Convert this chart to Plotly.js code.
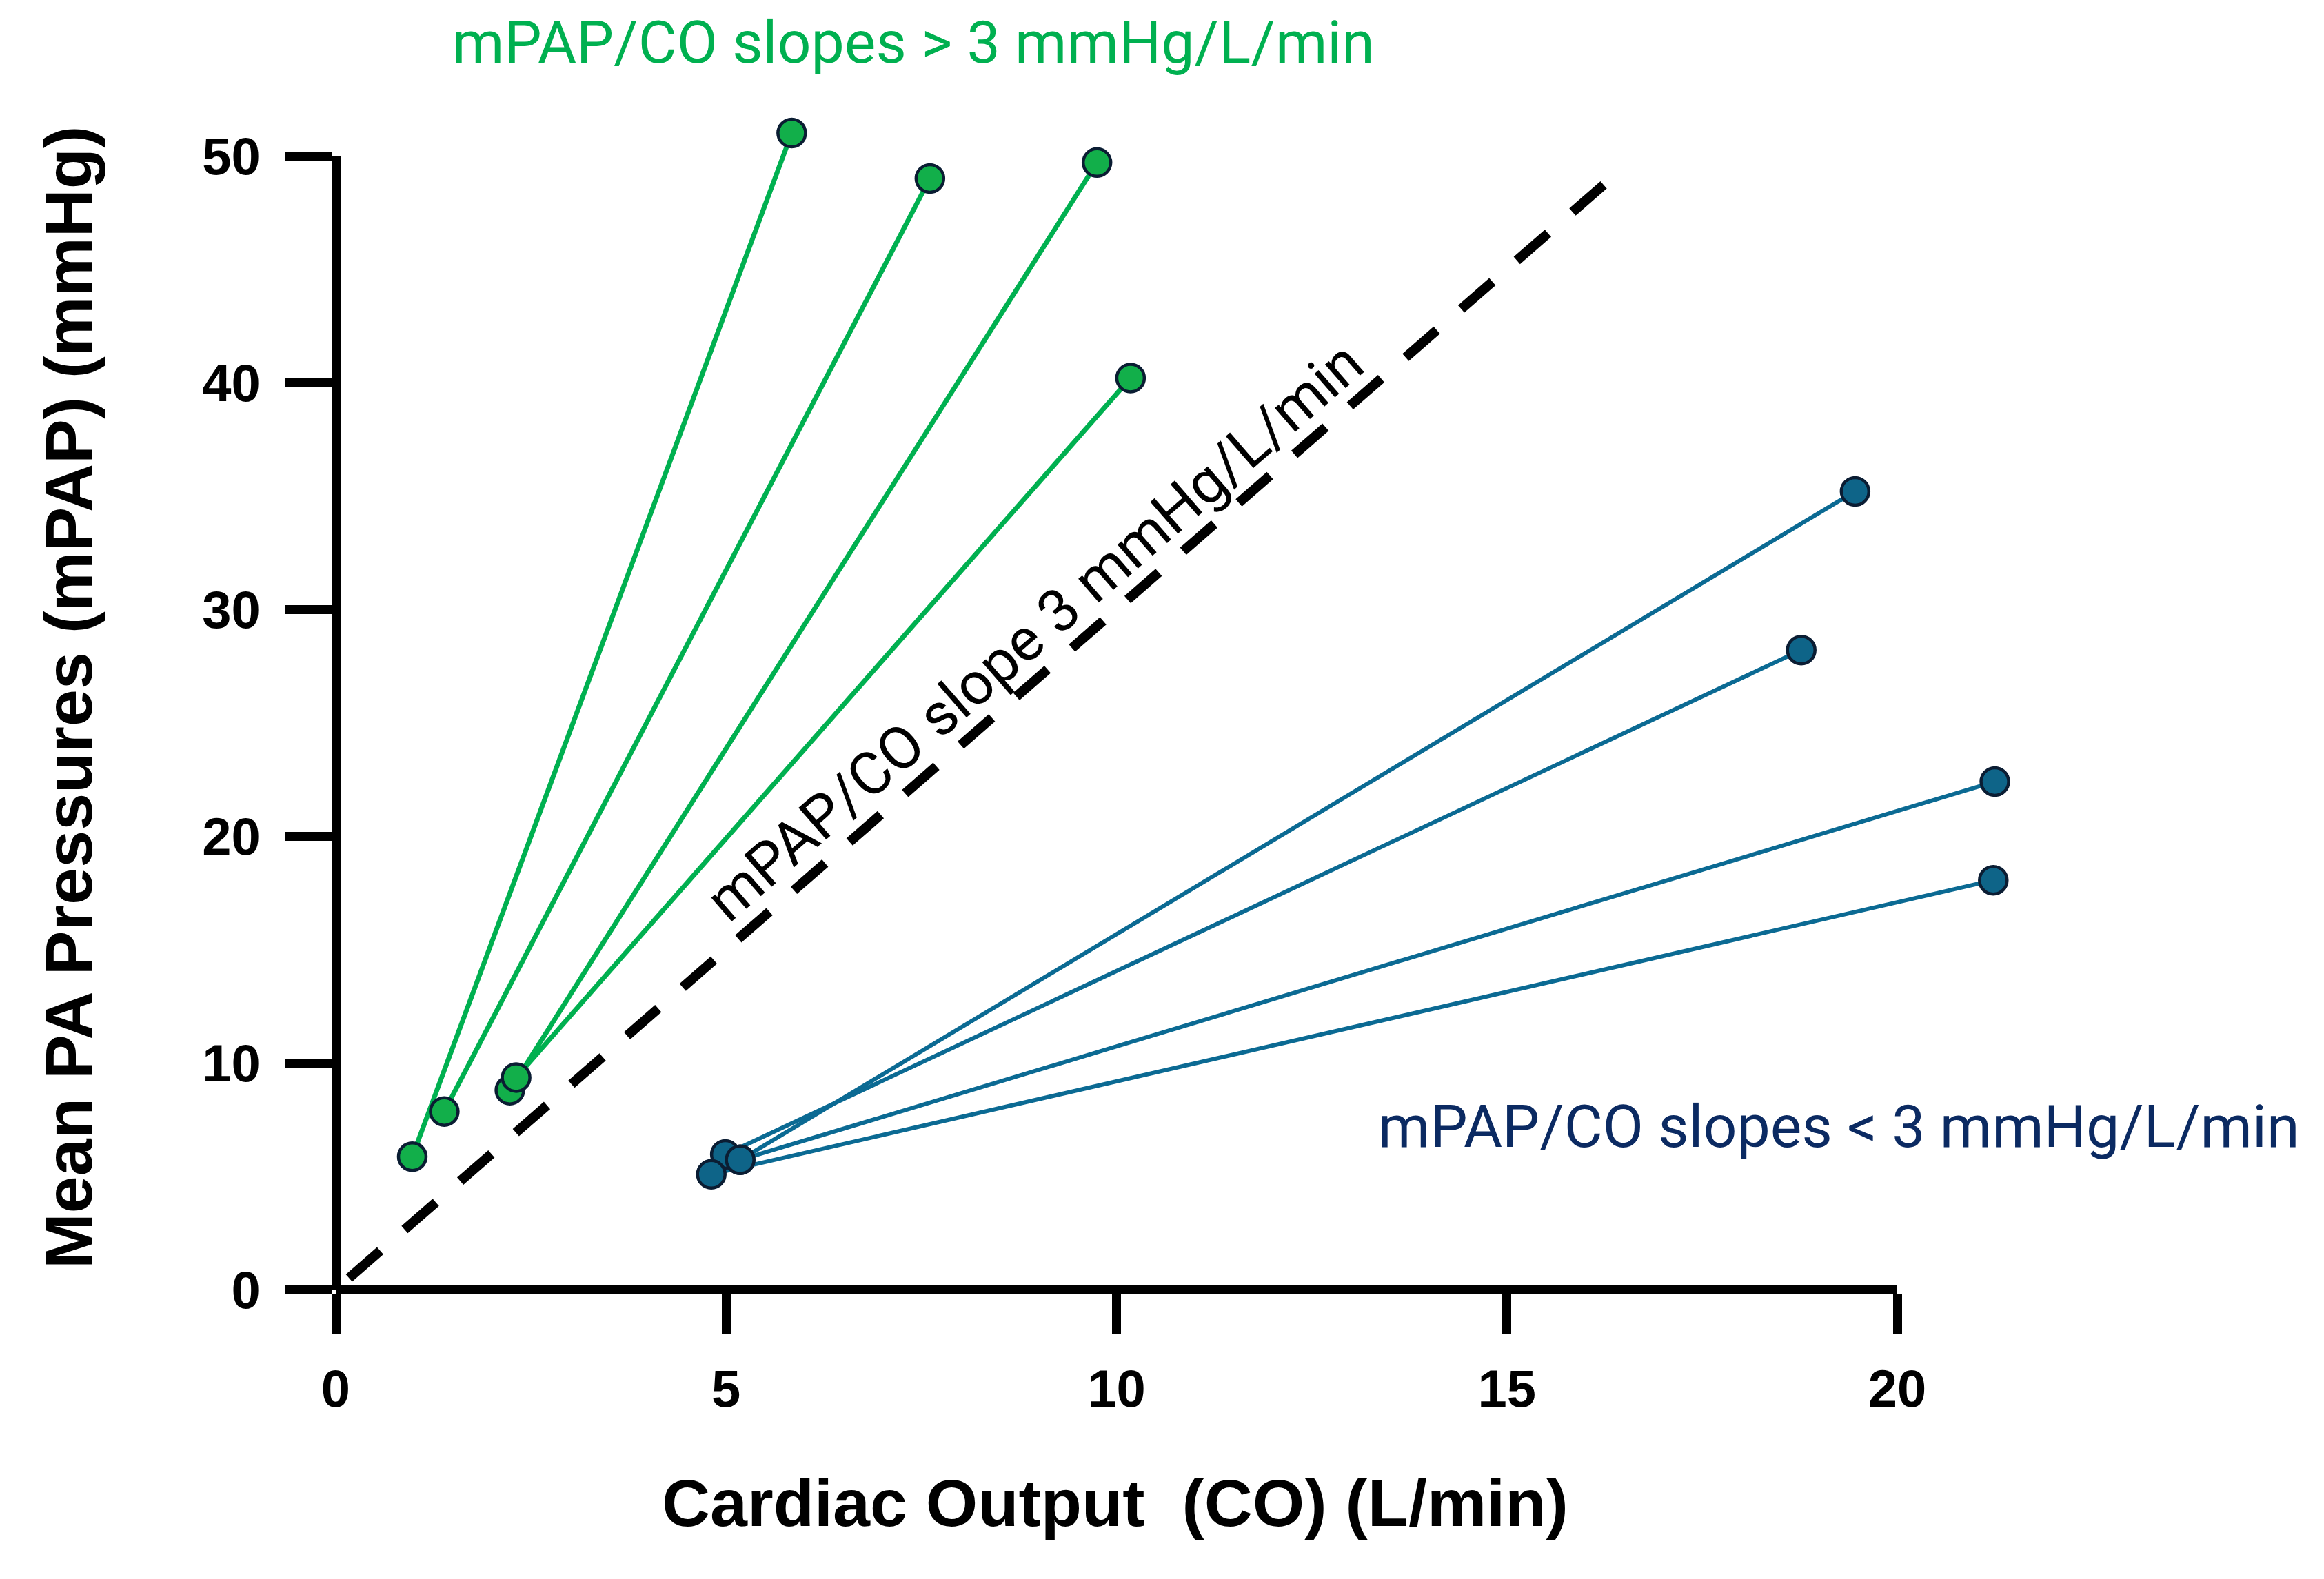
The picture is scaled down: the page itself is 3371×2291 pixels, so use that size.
<!DOCTYPE html>
<html>
<head>
<meta charset="utf-8">
<script src="https://cdn.plot.ly/plotly-3.0.1.min.js"></script>
<style>
  html, body { margin: 0; padding: 0; background: #ffffff; }
  #chart { width: 3371px; height: 2291px; }
</style>
</head>
<body>
<div id="chart"></div>
<script>
// Cardiac output (L/min) and mean PA pressure (mmHg), rest -> exercise, per subject.
// Subjects whose mPAP/CO slope exceeds 3 mmHg/L/min
const steepRestCO   = [0.98, 1.39, 2.23, 2.31];
const steepRestPAP  = [5.86, 7.85, 8.79, 9.35];
const steepPeakCO   = [5.84, 7.61, 9.75, 10.18];
const steepPeakPAP  = [51.0, 49.0, 49.7, 40.2];

// Subjects whose mPAP/CO slope stays below 3 mmHg/L/min
const flatRestCO    = [5.18, 4.99, 5.18, 4.81];
const flatRestPAP   = [5.72, 5.96, 5.72, 5.08];
const flatPeakCO    = [19.46, 18.77, 21.25, 21.23];
const flatPeakPAP   = [35.2, 28.2, 22.4, 18.05];

// Reference line: mPAP = 3 x CO
const refSlope = 3;
const refCO = [0.17, 16.28];

// Axis ticks
const xTicks = [0, 5, 10, 15, 20];
const yTicks = [0, 10, 20, 30, 40, 50];

// ---- page geometry (pixels) ----
const W = 3371, H = 2291;
const X0PX = 487, X20PX = 2752;   // CO = 0 and CO = 20
const Y0PX = 1871, Y50PX = 226;   // mPAP = 0 and mPAP = 50
const pxPerX = (X20PX - X0PX) / 20;
const pxPerY = (Y0PX - Y50PX) / 50;

const GREEN = '#00B050';
const GREEN_FILL = '#12AF4A';
const TEAL = '#0B6A93';
const TEAL_FILL = '#0E6488';
const OUTLINE = '#0B1D33';

const boldFamily = 'Liberation Sans, Arial, sans-serif';
const axisFont = { family: boldFamily, size: 76, color: '#000000', weight: 'bold' };
const titleFont = { family: boldFamily, size: 97, color: '#000000', weight: 'bold' };
const noteFont = (c) => ({ family: 'Roboto, "Open Sans", sans-serif', size: 86, color: c });

const traces = [];

// dashed reference line
traces.push({
  x: refCO,
  y: refCO.map(v => refSlope * v),
  mode: 'lines',
  line: { color: '#000000', width: 14, dash: '60px,47px' },
  hoverinfo: 'skip', showlegend: false
});

function addGroup(restCO, restPAP, peakCO, peakPAP, lineColor, lineWidth, fill) {
  for (let i = 0; i < restCO.length; i++) {
    traces.push({
      x: [restCO[i], peakCO[i]],
      y: [restPAP[i], peakPAP[i]],
      mode: 'lines',
      line: { color: lineColor, width: lineWidth },
      showlegend: false, cliponaxis: false
    });
  }
  traces.push({
    x: restCO.concat(peakCO),
    y: restPAP.concat(peakPAP),
    mode: 'markers',
    marker: { size: 40, color: fill, line: { color: OUTLINE, width: 4.5 } },
    showlegend: false, cliponaxis: false
  });
}
addGroup(steepRestCO, steepRestPAP, steepPeakCO, steepPeakPAP, GREEN, 7, GREEN_FILL);
addGroup(flatRestCO, flatRestPAP, flatPeakCO, flatPeakPAP, TEAL, 6, TEAL_FILL);

// empty trace that carries the visible axes
traces.push({ x: [], y: [], xaxis: 'x2', yaxis: 'y2', mode: 'markers', showlegend: false, hoverinfo: 'skip' });

const layout = {
  width: W, height: H,
  margin: { l: 0, r: 0, t: 0, b: 0, pad: 0 },
  paper_bgcolor: '#ffffff',
  plot_bgcolor: 'rgba(0,0,0,0)',
  showlegend: false,
  // data axes covering the whole page, same scale as the drawn axes
  xaxis: { domain: [0, 1], range: [-X0PX / pxPerX, (W - X0PX) / pxPerX], visible: false, fixedrange: true },
  yaxis: { domain: [0, 1], range: [-(H - Y0PX) / pxPerY, Y0PX / pxPerY], visible: false, fixedrange: true },
  xaxis2: {
    domain: [X0PX / W, X20PX / W], range: [0, 20],
    anchor: 'free', position: 1 - Y0PX / H,
    showline: true, linewidth: 13, linecolor: '#000000',
    ticks: 'outside', ticklen: 58, tickwidth: 13, tickcolor: '#000000',
    tickmode: 'array', tickvals: xTicks, ticktext: xTicks.map(String),
    ticklabelstandoff: 14,
    tickfont: axisFont, showgrid: false, zeroline: false
  },
  yaxis2: {
    domain: [1 - Y0PX / H, 1 - Y50PX / H], range: [0, 50],
    anchor: 'free', position: X0PX / W,
    showline: true, linewidth: 13, linecolor: '#000000',
    ticks: 'outside', ticklen: 68, tickwidth: 13, tickcolor: '#000000',
    tickmode: 'array', tickvals: yTicks, ticktext: yTicks.map(String),
    ticklabelstandoff: 20,
    tickfont: axisFont, showgrid: false, zeroline: false
  },
  annotations: [
    {
      text: 'Cardiac Output \u00a0(CO) (L/min)', xref: 'paper', yref: 'paper',
      x: 1617 / W, y: 1 - 2180 / H, xanchor: 'center', yanchor: 'middle',
      showarrow: false, font: titleFont
    },
    {
      text: 'Mean PA Pressures (mPAP) (mmHg)', xref: 'paper', yref: 'paper',
      x: 99 / W, y: 1 - 1012 / H, xanchor: 'center', yanchor: 'middle',
      textangle: -90, showarrow: false, font: titleFont
    },
    {
      text: 'mPAP/CO slopes > 3 mmHg/L/min', xref: 'paper', yref: 'paper',
      x: 654 / W, y: 1 - 62 / H, xanchor: 'left', yanchor: 'middle',
      showarrow: false, font: noteFont(GREEN)
    },
    {
      text: 'mPAP/CO slopes < 3 mmHg/L/min', xref: 'paper', yref: 'paper',
      x: 1997 / W, y: 1 - 1634 / H, xanchor: 'left', yanchor: 'middle',
      showarrow: false, font: noteFont('#0B2A62')
    },
    {
      text: 'mPAP/CO slope 3 mmHg/L/min', xref: 'paper', yref: 'paper',
      x: 1500 / W, y: 1 - 916 / H, xanchor: 'center', yanchor: 'middle',
      textangle: -41, showarrow: false, font: noteFont('#000000')
    }
  ]
};

Plotly.newPlot('chart', traces, layout, { staticPlot: true, displayModeBar: false });
</script>
</body>
</html>
